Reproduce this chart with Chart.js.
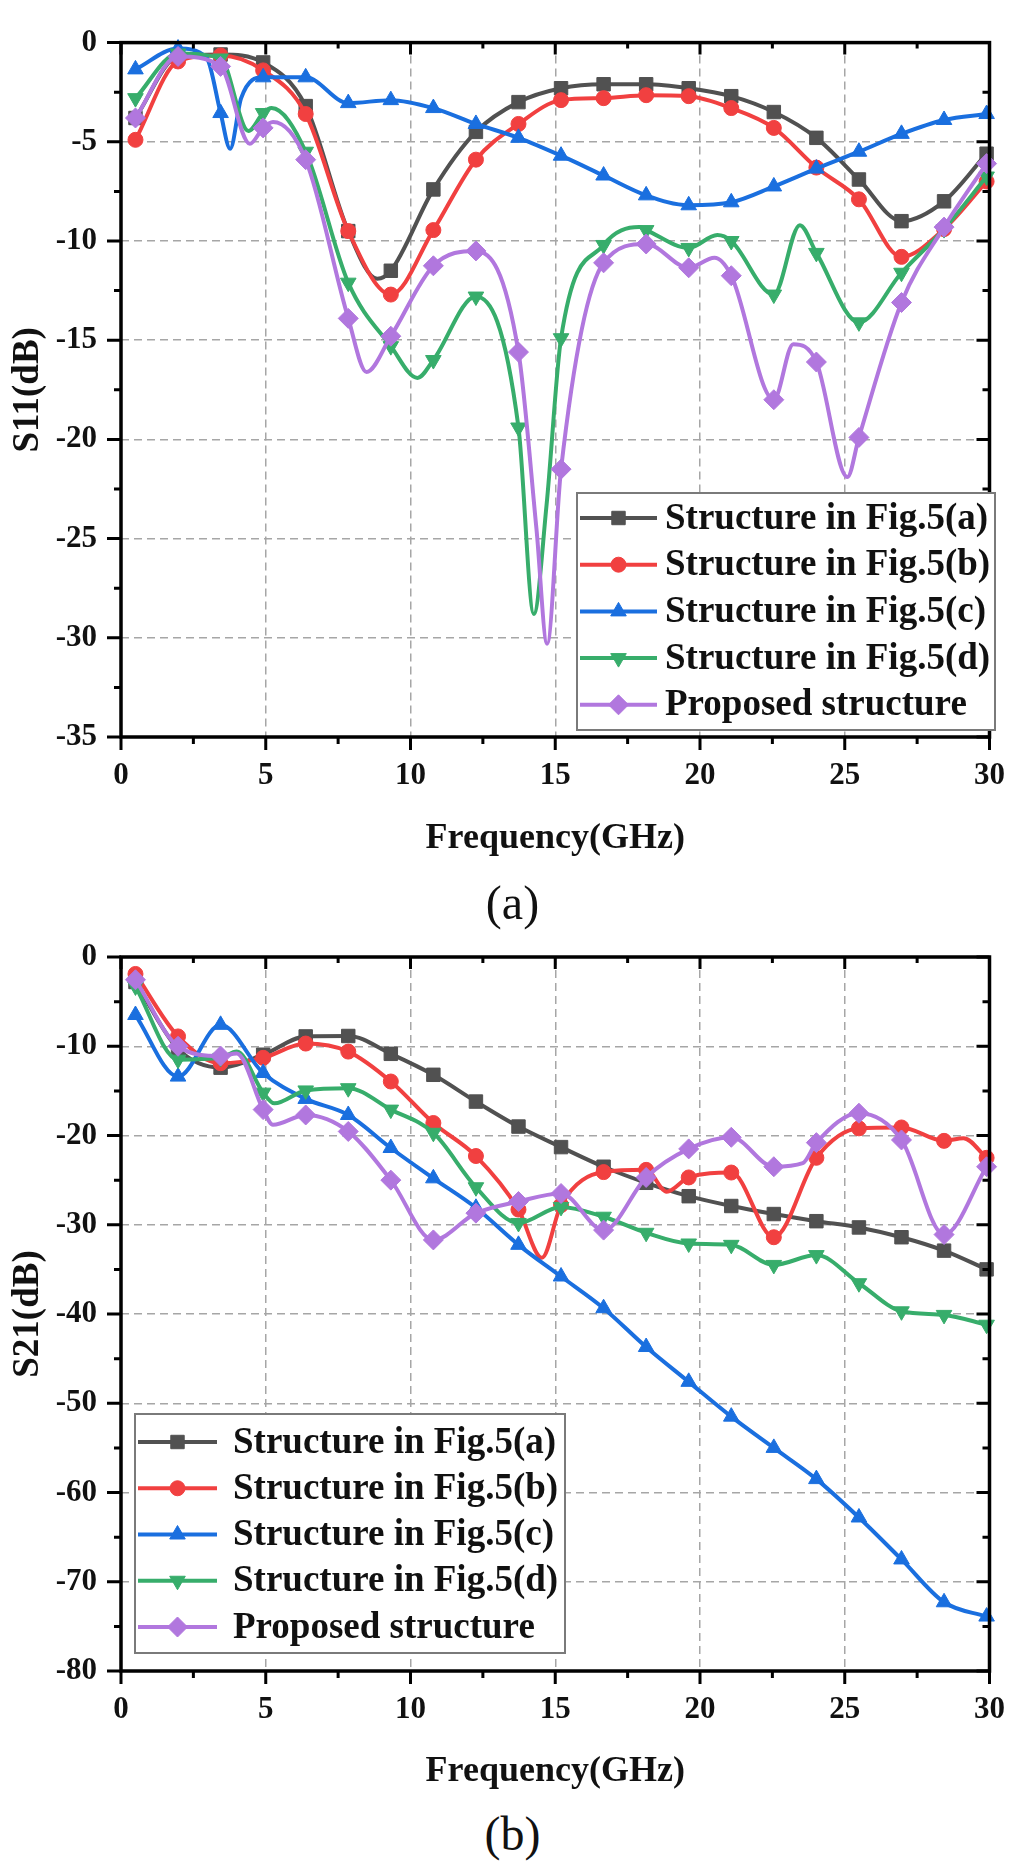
<!DOCTYPE html>
<html>
<head>
<meta charset="utf-8">
<script src="https://cdn.jsdelivr.net/npm/chart.js@4.4.0/dist/chart.umd.min.js"></script>
<style>
  html, body { margin: 0; padding: 0; background: #fff; }
  body { width: 1025px; height: 1864px; position: relative; overflow: hidden; }
  canvas { position: absolute; left: 0; }
  #c1 { top: 0; }
  #c2 { top: 880px; }
  .cap { position: absolute; left: 0; width: 1025px; text-align: center;
         font: 48px "Liberation Serif", serif; line-height: 48px; color: #111; }
</style>
</head>
<body>
<canvas id="c1" width="1025" height="880"></canvas>
<canvas id="c2" width="1025" height="920"></canvas>
<div class="cap" style="top:879px">(a)</div>
<div class="cap" style="top:1810px">(b)</div>
<script>
// frequencies where the symbols sit (GHz)
const markerFreqs = [0.5, 1.97, 3.44, 4.91, 6.38, 7.85, 9.32, 10.79, 12.26, 13.73, 15.2,
  16.67, 18.14, 19.61, 21.08, 22.55, 24.02, 25.49, 26.96, 28.43, 29.9];

const seriesNames = ['Structure in Fig.5(a)', 'Structure in Fig.5(b)', 'Structure in Fig.5(c)',
  'Structure in Fig.5(d)', 'Proposed structure'];

const xTicks = [0, 5, 10, 15, 20, 25, 30];
const s11Ticks = [0, -5, -10, -15, -20, -25, -30, -35];
const s21Ticks = [0, -10, -20, -30, -40, -50, -60, -70, -80];

// S11 (dB), [GHz, dB]
const s11A = [[0.5,-3.8],[1.97,-0.7],[3.44,-0.6],[4.91,-1.0],[6.38,-3.2],[7.85,-9.5],[8.85,-11.9],
  [9.32,-11.5],[10.79,-7.4],[12.26,-4.5],[13.73,-3.0],[15.2,-2.3],[16.67,-2.1],[18.14,-2.1],
  [19.61,-2.3],[21.08,-2.7],[22.55,-3.5],[24.02,-4.8],[25.49,-6.9],[26.96,-9.0],[28.43,-8.0],[29.9,-5.6]];
const s11B = [[0.5,-4.9],[1.97,-0.95],[3.44,-0.65],[4.91,-1.4],[6.38,-3.6],[7.85,-9.5],[9.32,-12.7],
  [10.79,-9.45],[12.26,-5.9],[13.73,-4.1],[15.2,-2.9],[16.67,-2.8],[18.14,-2.65],[19.61,-2.7],
  [21.08,-3.3],[22.55,-4.3],[24.02,-6.3],[25.49,-7.9],[26.96,-10.8],[28.43,-9.4],[29.9,-7.0]];
const s11C = [[0.5,-1.35],[1.97,-0.3],[2.95,-0.75],[3.44,-3.55],[3.77,-5.35],[4.15,-2.8],[4.91,-1.75],
  [6.38,-1.75],[7.85,-3.05],[9.32,-2.9],[10.79,-3.3],[12.26,-4.1],[13.73,-4.8],[15.2,-5.7],
  [16.67,-6.7],[18.14,-7.7],[19.61,-8.2],[21.08,-8.05],[22.55,-7.25],[24.02,-6.35],[25.49,-5.5],
  [26.96,-4.6],[28.43,-3.9],[29.9,-3.6]];
const s11D = [[0.5,-2.8],[1.97,-0.55],[3.44,-0.8],[4.4,-4.45],[4.91,-3.55],[5.2,-3.3],[6.38,-5.5],
  [7.85,-12.1],[9.32,-15.3],[10.24,-16.9],[10.79,-16.0],[12.26,-12.8],[13.73,-19.4],[14.26,-28.8],
  [14.7,-23.3],[15.2,-14.9],[16.67,-10.2],[17.9,-9.3],[18.14,-9.45],[19.61,-10.35],[20.6,-9.7],
  [21.08,-10.0],[22.55,-12.7],[23.45,-9.2],[24.02,-10.6],[25.49,-14.1],[26.96,-11.6],[28.43,-9.4],[29.9,-6.75]];
const s11P = [[0.5,-3.8],[1.97,-0.7],[3.44,-1.2],[4.45,-5.1],[4.91,-4.3],[5.25,-4.0],[6.38,-5.9],
  [7.85,-13.9],[8.48,-16.6],[9.32,-14.8],[10.79,-11.25],[12.26,-10.5],[13.73,-15.6],[14.35,-24.5],
  [14.72,-30.3],[15.2,-21.5],[16.67,-11.1],[18.14,-10.15],[19.61,-11.35],[20.5,-10.85],[21.08,-11.75],
  [22.55,-18.0],[23.22,-15.2],[24.02,-16.1],[25.09,-21.9],[25.49,-19.9],[26.96,-13.1],[28.43,-9.3],[29.9,-6.1]];

// S21 (dB), [GHz, dB]
const s21A = [[0.5,-2.8],[1.97,-10.3],[3.44,-12.4],[4.91,-10.95],[6.38,-8.9],[7.85,-8.85],[9.32,-10.85],
  [10.79,-13.2],[12.26,-16.2],[13.73,-19.0],[15.2,-21.3],[16.67,-23.5],[18.14,-25.3],[19.61,-26.8],
  [21.08,-27.9],[22.55,-28.8],[24.02,-29.6],[25.49,-30.3],[26.96,-31.4],[28.43,-32.9],[29.9,-35.0]];
const s21B = [[0.5,-1.9],[1.97,-8.9],[3.44,-11.9],[4.91,-11.3],[6.38,-9.7],[7.85,-10.6],[9.32,-13.95],
  [10.79,-18.6],[12.26,-22.3],[13.73,-28.3],[14.54,-33.7],[15.2,-27.8],[16.67,-24.1],[18.14,-23.85],
  [18.85,-26.3],[19.61,-24.7],[21.08,-24.15],[22.55,-31.4],[24.02,-22.5],[25.49,-19.2],[26.96,-19.1],
  [28.43,-20.6],[29.1,-20.3],[29.9,-22.5]];
const s21C = [[0.5,-6.5],[1.97,-13.4],[3.44,-7.6],[4.91,-13.0],[6.38,-15.9],[7.85,-17.7],[9.32,-21.4],
  [10.79,-24.8],[12.26,-28.1],[13.73,-32.25],[15.2,-35.8],[16.67,-39.35],[18.14,-43.7],[19.61,-47.6],
  [21.08,-51.5],[22.55,-55.0],[24.02,-58.5],[25.49,-62.8],[26.96,-67.5],[28.43,-72.3],[29.9,-73.9]];
const s21D = [[0.5,-3.3],[1.97,-11.5],[3.44,-11.3],[4.0,-10.6],[4.91,-15.2],[5.3,-16.4],[6.38,-14.95],
  [7.85,-14.7],[9.32,-17.1],[10.79,-19.7],[12.26,-25.8],[13.73,-29.8],[15.2,-28.0],[16.67,-29.1],
  [18.14,-30.9],[19.61,-32.1],[21.08,-32.25],[22.55,-34.5],[24.02,-33.4],[25.49,-36.55],[26.96,-39.7],
  [28.43,-40.1],[29.9,-41.2]];
const s21P = [[0.5,-2.55],[1.97,-10.0],[3.44,-11.1],[4.0,-10.8],[4.91,-17.1],[5.25,-18.8],[6.38,-17.7],
  [7.85,-19.55],[9.32,-25.0],[10.79,-31.7],[12.26,-28.7],[13.73,-27.4],[15.2,-26.5],[16.67,-30.6],
  [18.14,-24.7],[19.61,-21.5],[21.08,-20.2],[22.55,-23.5],[23.55,-23.1],[24.02,-20.8],[25.49,-17.5],
  [26.96,-20.5],[28.43,-31.1],[29.9,-23.5]];

const colors = ['#515151', '#F14040', '#1A6FDF', '#37AD6B', '#B177DE'];
const shapes = ['rect', 'circle', 'triangle', 'triangle', 'rectRot'];
const rotations = [0, 0, 0, 180, 0];
const radii = [9.5, 7.5, 9, 9, 10];
const serif = '"Liberation Serif", "Times New Roman", serif';

function isMarker(v) {
  return markerFreqs.includes(v);
}

function makeDatasets(list) {
  return list.map((pts, i) => ({
    label: seriesNames[i],
    data: pts.map(p => ({ x: p[0], y: p[1] })),
    borderColor: colors[i],
    backgroundColor: colors[i],
    pointBackgroundColor: colors[i],
    pointBorderColor: colors[i],
    borderWidth: 4,
    pointStyle: shapes[i],
    pointRotation: rotations[i],
    pointRadius: ctx => (ctx.raw && isMarker(ctx.raw.x)) ? radii[i] : 0,
    pointBorderWidth: 1,
    cubicInterpolationMode: 'monotone',
    order: 5 - i,
    clip: 12
  }));
}

// axis frame with inner/outer ticks, like the Origin plot
const framePlugin = {
  id: 'frame',
  afterDatasetsDraw(chart, args, o) {
    const { ctx, chartArea: a, scales: { x, y } } = chart;
    ctx.save();
    ctx.strokeStyle = '#000';
    ctx.lineWidth = 3.5;
    ctx.strokeRect(a.left, a.top, a.right - a.left, a.bottom - a.top);
    ctx.lineWidth = 3;
    ctx.beginPath();
    for (let v = x.min; v <= x.max + 1e-9; v += o.xMinor) {
      const px = x.getPixelForValue(v);
      const major = Math.abs(v / o.xMajor - Math.round(v / o.xMajor)) < 1e-6;
      ctx.moveTo(px, a.bottom); ctx.lineTo(px, a.bottom + (major ? 13 : 7));
      ctx.moveTo(px, a.top); ctx.lineTo(px, a.top + (major ? 12 : 6));
    }
    for (let v = y.max; v >= y.min - 1e-9; v -= o.yMinor) {
      const py = y.getPixelForValue(v);
      const major = Math.abs(v / o.yMajor - Math.round(v / o.yMajor)) < 1e-6;
      ctx.moveTo(a.left, py); ctx.lineTo(a.left - (major ? 14 : 7), py);
      ctx.moveTo(a.right, py); ctx.lineTo(a.right - (major ? 13 : 7), py);
    }
    ctx.stroke();
    ctx.restore();
  }
};

const boxLegend = {
  id: 'boxLegend',
  afterDraw(chart, args, o) {
    const ctx = chart.ctx;
    ctx.save();
    ctx.fillStyle = '#fff';
    ctx.fillRect(o.left, o.top, o.width, o.height);
    ctx.strokeStyle = '#7a7a7a';
    ctx.lineWidth = 2;
    ctx.strokeRect(o.left, o.top, o.width, o.height);
    chart.data.datasets.forEach((ds, i) => {
      const yy = o.firstRow + i * o.rowGap;
      ctx.strokeStyle = colors[i];
      ctx.fillStyle = colors[i];
      ctx.lineWidth = 4;
      ctx.beginPath();
      ctx.moveTo(o.lineX0, yy);
      ctx.lineTo(o.lineX1, yy);
      ctx.stroke();
      ctx.lineWidth = 1;
      Chart.helpers.drawPoint(ctx, { pointStyle: shapes[i], rotation: rotations[i], radius: radii[i], borderWidth: 1 },
        (o.lineX0 + o.lineX1) / 2, yy);
      ctx.fillStyle = '#111';
      ctx.font = 'bold 37px ' + serif;
      ctx.textBaseline = 'middle';
      ctx.textAlign = 'left';
      ctx.fillText(ds.label, o.textX, yy + 1);
    });
    ctx.restore();
  }
};

function makeOptions(c) {
  return {
    responsive: false,
    animation: false,
    devicePixelRatio: 1,
    layout: { padding: { top: c.top, right: 22, left: 0, bottom: 0 } },
    plugins: {
      legend: { display: false },
      tooltip: { enabled: false },
      frame: { xMinor: 2.5, xMajor: 5, yMinor: c.yMinor, yMajor: c.yMajor },
      boxLegend: c.legend
    },
    scales: {
      x: {
        type: 'linear', min: 0, max: 30,
        afterBuildTicks: s => { s.ticks = xTicks.map(v => ({ value: v })); },
        afterFit: s => { s.height = c.xHeight; },
        grid: { color: '#a6a6a6', lineWidth: 1.5, drawTicks: false },
        border: { display: false, dash: [8, 5] },
        ticks: { font: { family: serif, size: 31, weight: 'bold' }, color: '#111', padding: 20,
                 maxRotation: 0, autoSkip: false },
        title: { display: true, text: 'Frequency(GHz)', color: '#111',
                 font: { family: serif, size: 36, weight: 'bold' }, padding: { top: 0, bottom: c.titlePad } }
      },
      y: {
        type: 'linear', min: c.yTicks[c.yTicks.length - 1], max: c.yTicks[0],
        afterBuildTicks: s => { s.ticks = c.yTicks.map(v => ({ value: v })); },
        afterFit: s => { s.width = 121; },
        grid: { color: '#a6a6a6', lineWidth: 1.5, drawTicks: false },
        border: { display: false, dash: [8, 5] },
        ticks: { font: { family: serif, size: 31, weight: 'bold' }, color: '#111', padding: 24, autoSkip: false },
        title: { display: true, text: c.yTitle, color: '#111',
                 font: { family: serif, size: 37, weight: 'bold' }, padding: { top: 6, bottom: 0 } }
      }
    }
  };
}

new Chart(document.getElementById('c1'), {
  type: 'line',
  data: { datasets: makeDatasets([s11A, s11B, s11C, s11D, s11P]) },
  options: makeOptions({
    top: 23, xHeight: 143, titlePad: 20, yTicks: s11Ticks, yMinor: 2.5, yMajor: 5, yTitle: 'S11(dB)',
    legend: { left: 577, top: 493, width: 418, height: 237, firstRow: 518, rowGap: 46.7,
              lineX0: 580, lineX1: 657, textX: 665 }
  }),
  plugins: [framePlugin, boxLegend]
});

new Chart(document.getElementById('c2'), {
  type: 'line',
  data: { datasets: makeDatasets([s21A, s21B, s21C, s21D, s21P]) },
  options: makeOptions({
    top: 77, xHeight: 129, titlePad: 7, yTicks: s21Ticks, yMinor: 5, yMajor: 10, yTitle: 'S21(dB)',
    legend: { left: 135, top: 534, width: 430, height: 239, firstRow: 562, rowGap: 46.25,
              lineX0: 138, lineX1: 217, textX: 233 }
  }),
  plugins: [framePlugin, boxLegend]
});
</script>
</body>
</html>
